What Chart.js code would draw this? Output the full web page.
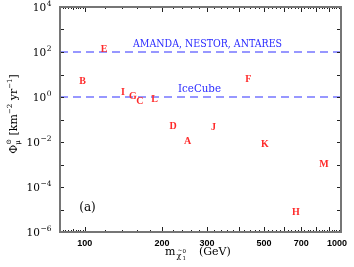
<!DOCTYPE html>
<html>
<head>
<meta charset="utf-8">
<script src="https://cdn.jsdelivr.net/npm/chart.js@4.4.1/dist/chart.umd.min.js"></script>
<style>
  html, body { margin: 0; padding: 0; background: #fff; }
  #wrap { width: 354px; height: 267px; }
</style>
</head>
<body>
<div id="wrap"><canvas id="c" width="354" height="267"></canvas></div>
<script>
// benchmark points: neutralino mass (GeV) vs muon flux from the Sun
var pointLabels = ['A', 'B', 'C', 'D', 'E', 'F', 'G', 'H', 'I', 'J', 'K', 'L', 'M'];
var massGeV     = [252, 98, 164, 221, 119, 435, 154, 666, 141, 318, 505, 187, 858];
var muonFlux    = [0.0114, 5.1, 0.68, 0.053, 146, 6.8, 1.14, 8.0e-6, 1.72, 0.048, 0.0082, 0.875, 0.00113];

// experimental reach (km^-2 yr^-1)
var limitX      = [80, 1000];
var amandaLimit = [100, 100];
var icecubeLimit = [1, 1];

var xRange = [80, 1000];
var yRange = [1e-6, 1e4];
var xTickLabels = [100, 200, 300, 500, 700, 1000];
var yTickExponents = [-6, -4, -2, 0, 2, 4];

var SERIF = "'DejaVu Serif', 'Liberation Serif', serif";
var TIMES = "'Liberation Serif', 'DejaVu Serif', serif";

function fitText(ctx, txt, cx, base, font, w) {
    ctx.font = font;
    var m = ctx.measureText(txt).width;
    ctx.save();
    ctx.translate(cx, base);
    ctx.scale(w / m, 1);
    ctx.textAlign = 'center';
    ctx.fillText(txt, 0, 0);
    ctx.restore();
}

var decor = {
    id: 'decor',
    afterDatasetsDraw: function (chart) {
        var ctx = chart.ctx, a = chart.chartArea;
        var xs = chart.scales.x, ys = chart.scales.y;
        ctx.save();

        /* ── ticks ── */
        ctx.strokeStyle = '#222';
        ctx.lineWidth = 1;
        ctx.beginPath();
        for (var e = -6; e <= 4; e++) {
            var py = Math.round(ys.getPixelForValue(Math.pow(10, e))) + 0.5;
            ctx.moveTo(a.left, py); ctx.lineTo(a.left + 4, py);
            ctx.moveTo(a.right, py); ctx.lineTo(a.right - 4, py);
        }
        var v, px, len;
        for (v = 82; v < 100; v += 2) {
            px = Math.round(xs.getPixelForValue(v)) + 0.5;
            len = v === 90 ? 3 : 2;
            ctx.moveTo(px, a.bottom); ctx.lineTo(px, a.bottom - len);
            ctx.moveTo(px, a.top); ctx.lineTo(px, a.top + len);
        }
        for (v = 100; v < 1000; v += 20) {
            px = Math.round(xs.getPixelForValue(v)) + 0.5;
            len = (v % 100 === 0) ? 5 : 2;
            ctx.moveTo(px, a.bottom); ctx.lineTo(px, a.bottom - len);
            ctx.moveTo(px, a.top); ctx.lineTo(px, a.top + len);
        }
        ctx.stroke();

        /* ── frame ── */
        ctx.strokeStyle = '#767676';
        ctx.lineWidth = 2;
        ctx.strokeRect(a.left, a.top, a.right - a.left, a.bottom - a.top);

        /* ── x tick labels ── */
        ctx.fillStyle = '#000';
        ctx.font = "bold 9px 'Liberation Sans', Arial, sans-serif";
        ctx.textAlign = 'center';
        ctx.textBaseline = 'alphabetic';
        xTickLabels.forEach(function (t) {
            var x = Math.min(xs.getPixelForValue(t), 337);
            ctx.fillText(String(t), x, 246);
        });

        /* ── y tick labels 10^n ── */
        ctx.textAlign = 'left';
        yTickExponents.forEach(function (n) {
            var py = ys.getPixelForValue(Math.pow(10, n));
            var ex = (n < 0 ? '\u2212' : '') + Math.abs(n);
            ctx.font = '10.5px ' + SERIF;
            var w10 = ctx.measureText('10').width;
            ctx.font = '7.5px ' + SERIF;
            var wex = ctx.measureText(ex).width;
            var x0 = 51 - w10 - wex;
            ctx.font = '10.5px ' + SERIF;
            ctx.fillText('10', x0, py + 3.5);
            ctx.font = '7.5px ' + SERIF;
            ctx.fillText(ex, x0 + w10 + 0.5, py - 1.5);
        });

        /* ── point letters ── */
        ctx.fillStyle = '#ff2a2a';
        ctx.font = 'bold 10px ' + TIMES;
        ctx.textAlign = 'center';
        var meta = chart.getDatasetMeta(2);
        meta.data.forEach(function (pt, i) {
            ctx.fillText(pointLabels[i], pt.x, pt.y + 3.4);
        });

        /* ── experiment labels ── */
        ctx.fillStyle = '#2a2aff';
        fitText(ctx, 'AMANDA, NESTOR, ANTARES', 207.5, 47, '10.5px ' + SERIF, 149);
        fitText(ctx, 'IceCube', 199.5, 92, '10.5px ' + SERIF, 43);

        /* ── panel tag ── */
        ctx.fillStyle = '#000';
        ctx.font = '12px ' + SERIF;
        ctx.textAlign = 'center';
        ctx.fillText('(a)', 87.5, 211);

        /* ── x title: m_{chi~_1^0} (GeV) ── */
        ctx.textAlign = 'left';
        ctx.font = '11px ' + SERIF;
        ctx.fillText('m', 165, 255);
        ctx.font = '8px ' + SERIF;
        ctx.fillText('\u03c7', 176.5, 258);
        ctx.font = '6px ' + SERIF;
        ctx.fillText('~', 177.5, 252);
        ctx.font = '5.5px ' + SERIF;
        ctx.fillText('0', 182.5, 253);
        ctx.fillText('1', 182.5, 260);
        ctx.font = '11px ' + SERIF;
        ctx.fillText('(GeV)', 199, 255);

        /* ── y title: Phi_mu^sun [km^-2 yr^-1] ── */
        var segs = [
            { t: '\u03a6', f: 11, dy: 0 },
            { t: '\u2299', f: 7, dy: -6, stack: true },
            { t: '\u03bc', f: 7, dy: 3 },
            { t: ' [km', f: 11, dy: 0 },
            { t: '\u22122', f: 7, dy: -5 },
            { t: ' yr', f: 11, dy: 0 },
            { t: '\u22121', f: 7, dy: -5 },
            { t: ']', f: 11, dy: 0 }
        ];
        var total = 0, i, w, wPrev = 0;
        for (i = 0; i < segs.length; i++) {
            ctx.font = segs[i].f + 'px ' + SERIF;
            w = ctx.measureText(segs[i].t).width;
            if (segs[i].stack) { wPrev = w; continue; }
            total += Math.max(w, wPrev); wPrev = 0;
        }
        ctx.translate(17, 114);
        ctx.rotate(-Math.PI / 2);
        var cx = -total / 2; wPrev = 0;
        for (i = 0; i < segs.length; i++) {
            ctx.font = segs[i].f + 'px ' + SERIF;
            w = ctx.measureText(segs[i].t).width;
            ctx.fillText(segs[i].t, cx, segs[i].dy);
            if (segs[i].stack) { wPrev = w; continue; }
            cx += Math.max(w, wPrev); wPrev = 0;
        }

        ctx.restore();
    }
};

var ctx = document.getElementById('c').getContext('2d');
new Chart(ctx, {
    type: 'scatter',
    data: {
        datasets: [{
            type: 'line',
            data: limitX.map(function (x, i) { return { x: x, y: amandaLimit[i] }; }),
            borderColor: 'rgba(110,110,255,0.95)',
            borderWidth: 1.3,
            borderDash: [8, 5],
            pointRadius: 0,
            fill: false
        }, {
            type: 'line',
            data: limitX.map(function (x, i) { return { x: x, y: icecubeLimit[i] }; }),
            borderColor: 'rgba(110,110,255,0.95)',
            borderWidth: 1.3,
            borderDash: [8, 5],
            pointRadius: 0,
            fill: false
        }, {
            data: massGeV.map(function (m, i) { return { x: m, y: muonFlux[i] }; }),
            pointRadius: 0,
            pointHoverRadius: 0
        }]
    },
    options: {
        responsive: false,
        devicePixelRatio: 1,
        animation: false,
        layout: { padding: { left: 60, right: 13, top: 7, bottom: 35 } },
        plugins: {
            legend: { display: false },
            tooltip: { enabled: false }
        },
        scales: {
            x: { type: 'logarithmic', min: xRange[0], max: xRange[1], display: false },
            y: { type: 'logarithmic', min: yRange[0], max: yRange[1], display: false }
        }
    },
    plugins: [decor]
});
</script>
</body>
</html>
